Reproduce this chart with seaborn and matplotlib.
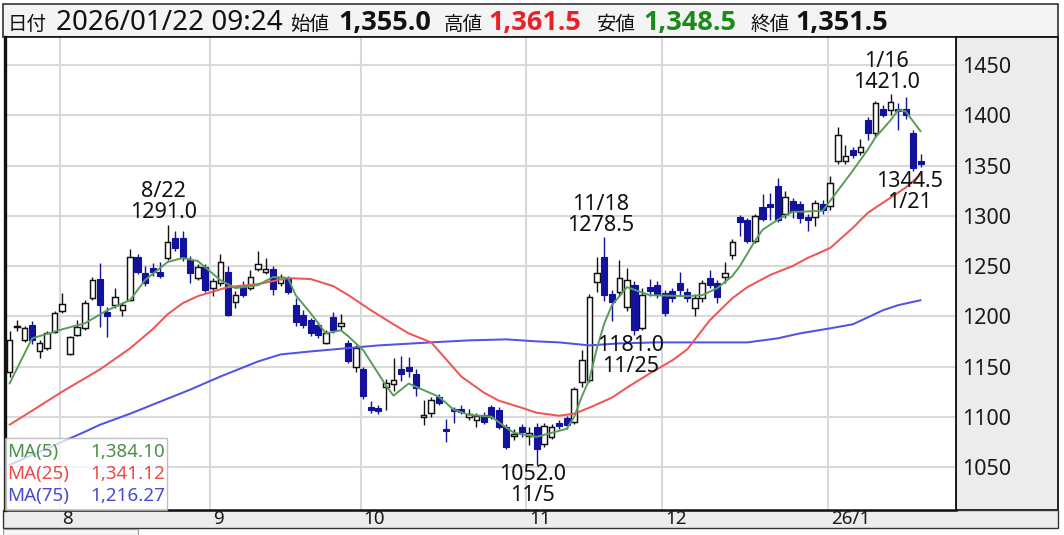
import matplotlib
matplotlib.use("Agg")
import numpy as np
import pandas as pd
import matplotlib.pyplot as plt
import matplotlib.transforms as mtransforms
from matplotlib.patches import Rectangle
import seaborn as sns

# ---------------- data ----------------
opens = [1145, 1189, 1176, 1191, 1165, 1168, 1184, 1205, 1162, 1181,
         1188, 1218, 1237, 1204, 1211, 1206, 1216, 1259, 1243, 1248,
         1244, 1258, 1278, 1278, 1256, 1238, 1249, 1228, 1233, 1244,
         1214, 1229, 1228, 1247, 1244, 1247, 1233, 1238, 1211, 1201,
         1196, 1191, 1173, 1199, 1190, 1173, 1150, 1148, 1110, 1109,
         1130, 1133, 1148, 1150, 1143, 1100, 1104, 1120, 1088, 1108,
         1108, 1100, 1097, 1102, 1110, 1107, 1090, 1081, 1090, 1081,
         1090, 1073, 1080, 1094, 1099, 1095, 1135, 1137, 1234, 1259,
         1222, 1224, 1209, 1231, 1188, 1229, 1231, 1223, 1225, 1233,
         1224, 1208, 1218, 1238, 1233, 1239, 1261, 1299, 1296, 1275,
         1309, 1312, 1330, 1302, 1315, 1312, 1299, 1299, 1312, 1310,
         1355, 1355, 1365, 1363, 1395, 1382, 1406, 1405, 1406, 1406,
         1382, 1355.0]
highs = [1185, 1196, 1190, 1195, 1176, 1185, 1205, 1223, 1180, 1196,
         1216, 1239, 1253, 1209, 1228, 1214, 1267, 1262, 1250, 1253,
         1254, 1291, 1285, 1285, 1260, 1252, 1252, 1238, 1262, 1250,
         1225, 1235, 1246, 1265, 1258, 1250, 1242, 1240, 1218, 1206,
         1198, 1194, 1186, 1204, 1202, 1176, 1171, 1150, 1116, 1112,
         1138, 1158, 1160, 1159, 1148, 1117, 1120, 1123, 1098, 1110,
         1112, 1108, 1104, 1105, 1112, 1110, 1093, 1088, 1093, 1090,
         1094, 1094, 1093, 1097, 1101, 1130, 1166, 1222, 1259, 1278.5,
         1226, 1256, 1248, 1235, 1228, 1237, 1235, 1226, 1228, 1244,
         1228, 1222, 1236, 1246, 1236, 1254, 1277, 1301, 1298, 1302,
         1322, 1323, 1338, 1325, 1318, 1315, 1302, 1316, 1316, 1340,
         1388, 1370, 1368, 1376, 1398, 1414, 1410, 1421, 1412, 1418,
         1385, 1361.5]
lows = [1140, 1185, 1174, 1172, 1158, 1166, 1183, 1203, 1161, 1180,
        1186, 1216, 1189, 1179, 1208, 1200, 1215, 1242, 1230, 1240,
        1238, 1256, 1265, 1255, 1233, 1236, 1224, 1220, 1230, 1200,
        1208, 1219, 1226, 1245, 1242, 1221, 1230, 1222, 1190, 1188,
        1180, 1178, 1172, 1183, 1186, 1153, 1145, 1118, 1104, 1103,
        1107, 1126, 1136, 1140, 1121, 1092, 1100, 1112, 1075, 1094,
        1103, 1097, 1090, 1093, 1098, 1088, 1068, 1077, 1080, 1072,
        1052, 1070, 1078, 1088, 1088, 1093, 1130, 1135, 1224, 1215,
        1195, 1220, 1205, 1181, 1186, 1220, 1218, 1200, 1214, 1220,
        1214, 1200, 1214, 1228, 1213, 1233, 1257, 1280, 1273, 1273,
        1295, 1296, 1294, 1298, 1298, 1293, 1285, 1290, 1302, 1306,
        1352, 1352, 1357, 1360, 1375, 1378, 1398, 1400, 1385, 1396,
        1344.5, 1348.5]
closes = [1176, 1190, 1188, 1176, 1173, 1183, 1203, 1212, 1179, 1189,
          1213, 1236, 1211, 1200, 1219, 1211, 1259, 1244, 1233, 1244,
          1240, 1274, 1268, 1258, 1243, 1249, 1226, 1235, 1254, 1201,
          1221, 1221, 1239, 1252, 1247, 1227, 1239, 1224, 1194, 1191,
          1183, 1181, 1183, 1186, 1193, 1155, 1168, 1121, 1107, 1106,
          1134, 1137, 1143, 1146, 1129, 1101, 1117, 1114, 1086, 1106,
          1105, 1103, 1101, 1095, 1100, 1090, 1070, 1083, 1085, 1084,
          1068, 1091, 1090, 1091, 1092, 1128, 1156, 1219, 1243, 1221,
          1214, 1238, 1236, 1186, 1221, 1225, 1221, 1203, 1218, 1226,
          1218, 1218, 1233, 1231, 1219, 1243, 1274, 1294, 1275, 1300,
          1297, 1309, 1296, 1319, 1305, 1298, 1296, 1313, 1306, 1333,
          1380, 1359, 1360, 1368, 1382, 1412, 1400, 1413, 1404, 1400,
          1348, 1351.5]

# moving averages (candle index, value)
ma5_idx = [0, 3, 7, 10, 13, 16, 18, 21, 23, 25, 28, 30, 33, 35, 37, 38, 40, 42, 44, 45,
           47, 50, 51, 53, 57, 59, 61, 64, 66, 67, 70, 74, 75, 76, 77, 78, 79, 80, 82, 85,
           90, 92, 94, 96, 97, 99, 100, 102, 104, 105, 108, 110, 112, 114, 115, 117, 118, 119, 121]
ma5_val = [1133, 1178, 1187, 1193, 1206, 1216, 1236, 1254, 1258, 1255, 1236, 1228, 1231, 1239, 1238, 1221, 1203, 1183, 1186, 1180,
           1166, 1131, 1121, 1133, 1120, 1107, 1102, 1100, 1089, 1084, 1080, 1088, 1100, 1120, 1137, 1168, 1193, 1211, 1229, 1221,
           1220, 1221, 1228, 1240, 1250, 1275, 1286, 1296, 1304, 1304, 1305, 1325, 1345, 1366, 1378, 1395, 1405, 1404, 1384]
ma25_idx = [0, 3, 7, 12, 16, 19, 21, 23, 25, 29, 33, 37, 40, 43, 45, 48, 51, 53, 56, 58,
            60, 63, 65, 68, 70, 73, 75, 77, 80, 82, 85, 88, 90, 93, 96, 98, 101, 104, 106, 109,
            112, 114, 117, 119, 121]
ma25_val = [1092, 1106, 1125, 1147, 1168, 1187, 1202, 1213, 1220, 1229, 1232, 1238, 1237, 1230, 1221, 1206, 1192, 1183, 1174, 1157,
            1140, 1124, 1116, 1109, 1104, 1101, 1103, 1109, 1119, 1129, 1143, 1156, 1167, 1196, 1218, 1229, 1241, 1250, 1258, 1268,
            1288, 1303, 1318, 1328, 1341]
ma75_idx = [0, 10, 12, 16, 20, 24, 28, 31, 33, 36, 40, 43, 49, 56, 61, 66, 70, 73, 77, 81,
            86, 92, 98, 102, 105, 109, 112, 114, 116, 118, 121]
ma75_val = [1052, 1085, 1092, 1103, 1115, 1127, 1140, 1149, 1155, 1162, 1165, 1167, 1171, 1174, 1176, 1177, 1175, 1174, 1171, 1173,
            1174, 1174, 1174, 1178, 1183, 1188, 1192, 1199, 1206, 1211, 1216]

month_labels = ["8", "9", "10", "11", "12", "26/1"]
month_first_idx = [7, 27, 47, 69, 87, 109]
y_ticks = [1050, 1100, 1150, 1200, 1250, 1300, 1350, 1400, 1450]

peak_idx = [21, 79, 117]
peak_dates = ["8/22", "11/18", "1/16"]
trough_idx = [70, 83, 120]
trough_dates = ["11/5", "11/25", "1/21"]

legend_names = ["MA(5)", "MA(25)", "MA(75)"]
legend_values = ["1,384.10", "1,341.12", "1,216.27"]

header_date = "2026/01/22 09:24"
header_labels = ["始値", "高値", "安値", "終値"]
header_values = ["1,355.0", "1,361.5", "1,348.5", "1,351.5"]

# ---------------- style ----------------
sns.set_theme(style="white")
plt.rcParams['font.family'] = ['Noto Sans', 'Noto Sans CJK JP', 'DejaVu Sans']

UP_EDGE = "#111111"
DOWN = "#12129c"
C_MA5 = "#5a9c5a"
C_MA25 = "#f05656"
C_MA75 = "#5252e8"
GRID = "#d9d9d9"
PANEL = "#ececec"

W, H = 1064, 535
fig = plt.figure(figsize=(W / 100, H / 100), dpi=100)
fig.patch.set_facecolor("white")


def fx(px):
    return px / W


def fy(py):
    return 1 - py / H


PL, PR, PT, PB = 5, 956, 37, 510
ax = fig.add_axes([fx(PL), fy(PB), fx(PR) - fx(PL), fy(PT) - fy(PB)])
ax.set_facecolor("white")

pitch, x0 = 7.53, 9.5
ax.set_xlim((PL - x0) / pitch, (PR - x0) / pitch)
ax.set_ylim(1007.2, 1477.9)

# background panels
fig.add_artist(Rectangle((fx(3), fy(37)), fx(1058) - fx(3), fy(4) - fy(37),
                         transform=fig.transFigure, facecolor="#f4f4f4",
                         edgecolor="#333333", lw=1.2, zorder=-1))
fig.add_artist(Rectangle((fx(956), fy(510)), fx(1058) - fx(956), fy(37) - fy(510),
                         transform=fig.transFigure, facecolor=PANEL,
                         edgecolor="#111111", lw=1.3, zorder=-1))
fig.add_artist(Rectangle((fx(3), fy(528)), fx(1058) - fx(3), fy(510) - fy(528),
                         transform=fig.transFigure, facecolor=PANEL,
                         edgecolor="#333333", lw=1.0, zorder=-1))
fig.add_artist(Rectangle((fx(3), fy(535)), fx(138) - fx(3), fy(529) - fy(535),
                         transform=fig.transFigure, facecolor="#f6f6f6",
                         edgecolor="#999999", lw=0.8, zorder=-1))

# grid
for v in y_ticks:
    ax.axhline(v, color=GRID, lw=1.5, zorder=0)
for m in month_first_idx:
    ax.axvline(m - 0.35, color=GRID, lw=1.5, zorder=0)

# candles
df = pd.DataFrame({"o": opens, "h": highs, "l": lows, "c": closes})
df["i"] = np.arange(len(df))
df["up"] = df["c"] >= df["o"]
df["bot"] = df[["o", "c"]].min(axis=1)
df["hgt"] = (df["c"] - df["o"]).abs().clip(lower=1.5)
up = df[df["up"]]
dn = df[~df["up"]]
ax.vlines(up["i"], up["l"], up["h"], color=UP_EDGE, lw=1.0, zorder=2)
ax.vlines(dn["i"], dn["l"], dn["h"], color=DOWN, lw=1.0, zorder=2)
ax.bar(up["i"], up["hgt"], bottom=up["bot"], width=0.74, facecolor="white",
       edgecolor=UP_EDGE, lw=1.05, zorder=3)
ax.bar(dn["i"], dn["hgt"], bottom=dn["bot"], width=0.8, facecolor=DOWN,
       edgecolor=DOWN, lw=0.8, zorder=3)

# moving averages
sns.lineplot(x=ma75_idx, y=ma75_val, ax=ax, color=C_MA75, lw=1.45, zorder=4)
sns.lineplot(x=ma25_idx, y=ma25_val, ax=ax, color=C_MA25, lw=1.45, zorder=4)
sns.lineplot(x=ma5_idx, y=ma5_val, ax=ax, color=C_MA5, lw=1.4, zorder=4)

# axes styling
ax.set_xlabel("")
ax.set_ylabel("")
ax.set_xticks([])
ax.yaxis.tick_right()
ax.set_yticks(y_ticks)
ax.set_yticklabels([str(v) for v in y_ticks], fontsize=15.5, color="#1a1a1a")
ax.tick_params(axis="y", length=0, pad=4.5)
for side, lw in (("left", 2.4), ("right", 1.3), ("top", 1.2), ("bottom", 1.8)):
    ax.spines[side].set_visible(True)
    ax.spines[side].set_color("#111111")
    ax.spines[side].set_linewidth(lw)

# month labels in bottom strip
trans_x = mtransforms.blended_transform_factory(ax.transData, fig.transFigure)
for lab, m in zip(month_labels, month_first_idx):
    ax.text(m - 0.35 + 3 / pitch, fy(519.5), lab, transform=trans_x, ha="left",
            va="center", fontsize=13.5, color="#1a1a1a", clip_on=False)

# high / low annotations
PX = 0.72
for i, d in zip(peak_idx, peak_dates):
    v = highs[i]
    ax.annotate(f"{v:.1f}", xy=(i, v), xytext=(-4 * PX, 12 * PX), textcoords="offset points",
                ha="center", va="center", fontsize=15.5, color="#111111", zorder=6)
    ax.annotate(d, xy=(i, v), xytext=(-4 * PX, 33 * PX), textcoords="offset points",
                ha="center", va="center", fontsize=15.5, color="#111111", zorder=6)
for i, d in zip(trough_idx, trough_dates):
    v = lows[i]
    ax.annotate(f"{v:.1f}", xy=(i, v), xytext=(-4 * PX, -10 * PX), textcoords="offset points",
                ha="center", va="center", fontsize=15.5, color="#111111", zorder=6)
    ax.annotate(d, xy=(i, v), xytext=(-4 * PX, -31 * PX), textcoords="offset points",
                ha="center", va="center", fontsize=15.5, color="#111111", zorder=6)

# legend box
ax.add_patch(Rectangle((fx(5), fy(510)), fx(167) - fx(5), fy(438) - fy(510),
                       transform=fig.transFigure, facecolor="white", alpha=0.75,
                       edgecolor="#aaaaaa", lw=1.0, zorder=7, clip_on=False))
leg_colors = ["#4a8f4a", "#ea4a4a", "#4848d8"]
for k, (nm, val, col) in enumerate(zip(legend_names, legend_values, leg_colors)):
    yy = fy(452 + 22 * k)
    ax.text(fx(7), yy, nm, transform=fig.transFigure, ha="left", va="center",
            fontsize=13.5, color=col, zorder=8, clip_on=False)
    ax.text(fx(165), yy, val, transform=fig.transFigure, ha="right", va="center",
            fontsize=13.5, color=col, zorder=8, clip_on=False)

# header
yb = fy(30)
fig.text(fx(8), yb, "日付", fontsize=14, ha="left", va="baseline", color="#111111")
fig.text(fx(56), yb, header_date, fontsize=20, ha="left", va="baseline", color="#111111")
label_x = [290, 444, 597, 751]
value_x = [338, 488, 643, 795]
value_colors = ["#111111", "#e8202a", "#1b8a1b", "#111111"]
for lab, val, lx, vx, col in zip(header_labels, header_values, label_x, value_x, value_colors):
    fig.text(fx(lx), yb, lab, fontsize=14, ha="left", va="baseline", color="#111111")
    fig.text(fx(vx), yb, val, fontsize=19.5, ha="left", va="baseline", color=col,
             fontweight="bold", family=["Open Sans", "DejaVu Sans"])

fig.savefig("out.png", dpi=100)
